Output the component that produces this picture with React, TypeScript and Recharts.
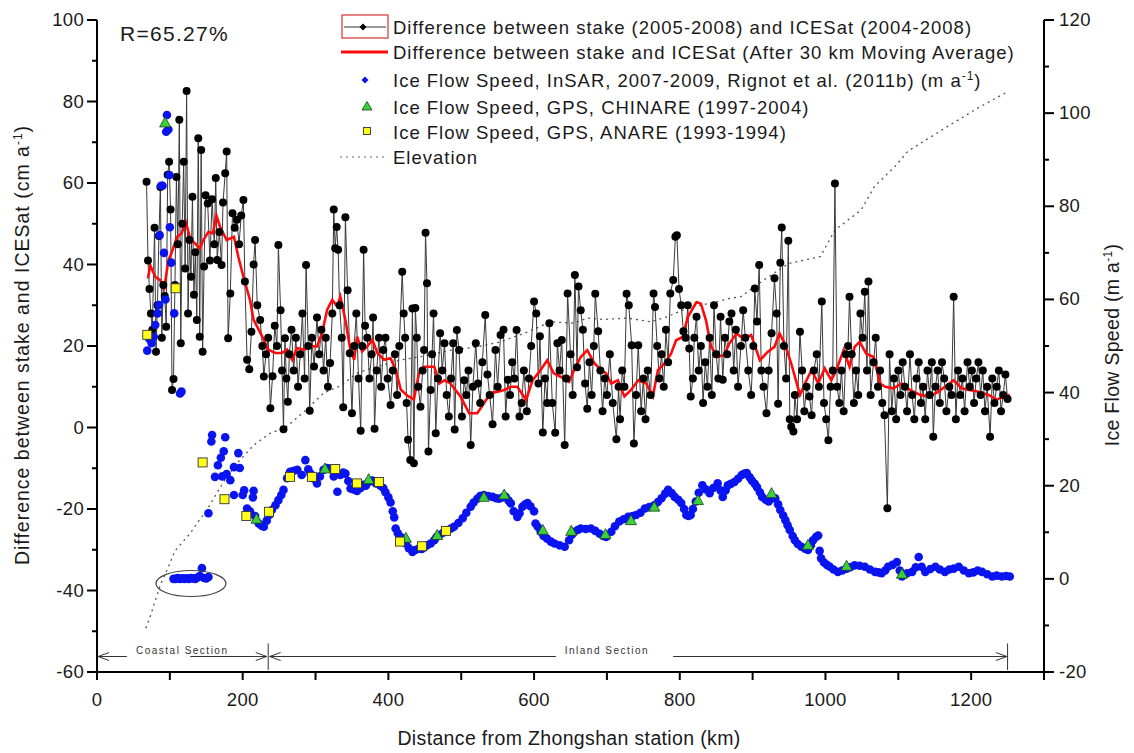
import {
  ComposedChart,
  Line,
  Scatter,
  XAxis,
  YAxis,
  ReferenceLine,
  ReferenceDot,
} from 'recharts'

const FONT = '"Liberation Sans", Arial, Helvetica, sans-serif'

// distance (km), difference between stake and ICESat (cm/a)
const STAKE_DIFF: [number, number][] = [
  [68, 60.3], [70, 41], [72, 34], [74, 28], [76, 24], [79, 49], [81, 18.6], [83, 30], [85, 47], [87, 59],
  [89, 22], [91, 35], [93, 32.3], [95, 24.7], [97, 62], [99, 65.2], [101, 53.5], [103, 9.2], [105, 11.9], [107, 35],
  [109, 61.5], [111, 45], [113, 75.5], [115, 20.7], [117, 50], [119, 65.2], [121, 39], [123, 82.6], [125, 28], [127, 46],
  [129, 37], [131, 56.6], [133, 32.6], [135, 43], [137, 26.4], [139, 71], [141, 22.3], [143, 68.1], [145, 18.6], [147, 39.5],
  [149, 57], [152, 55], [155, 41], [158, 56], [161, 45], [163, 61.2], [165, 41.1], [168, 48], [171, 39.9], [173, 55.2],
  [176, 62.4], [178, 67.7], [180, 21.9], [183, 32.9], [186, 52.6], [189, 49], [192, 51], [195, 45], [198, 52], [201, 55.8],
  [203, 35.8], [206, 16.6], [209, 14.3], [212, 23.5], [215, 40], [217, 46], [220, 30], [224, 26.4], [227, 20], [229, 12.5],
  [232, 18], [235, 22], [238, 4.7], [241, 12.6], [244, 25], [247, 20], [249, 44.8], [252, 28.8], [254, 14], [256, -0.4],
  [258, 21.9], [260, 12], [262, 6.3], [264, 18], [267, 24], [270, 14], [273, 22], [276, 10], [279, 18], [282, 28],
  [285, 12], [287, 39.9], [290, 20], [292, 4.1], [295, 22], [298, 15], [302, 27], [305, 18], [308, 24], [311, 14],
  [314, 22], [317, 10], [320, 15.8], [323, 28], [325, 53.5], [327, 44], [329, 49.2], [331, 43.6], [333, 30], [336, 22],
  [338, 5], [341, 51.6], [344, 33.7], [347, 18.2], [350, 3.5], [353, 20], [356, 28], [359, 12], [362, -0.8], [364, 20],
  [366, 43.6], [368, 25], [371, 22], [374, 12], [377, 18], [379, 27], [381, -0.3], [384, 14], [387, 22], [390, 10],
  [393, 19], [396, 22], [399, 12], [403, 5.5], [406, 14], [409, 18], [412, 8], [415, 20], [419, 38.2], [421, 28],
  [423, 22], [425, 6], [427, -3], [430, -8], [433, 29.2], [435, -8.8], [437, 29.3], [439, 22], [441, 10], [444, 5.1],
  [447, 14], [449, 19], [451, 47.8], [453, 35.4], [455, -5.9], [458, 9.2], [460, 18], [462, 28], [465, -1.4], [468, 12],
  [471, 23.1], [474, 14], [477, 20.7], [480, 8], [483, 2.7], [486, 12], [489, 20.7], [491, -0.5], [494, 23.9], [497, 19],
  [501, 2.7], [504, 11.6], [507, 8], [510, 14], [513, -4.3], [516, 10], [520, 20.7], [523, 10.8], [526, 6], [529, 16],
  [533, 27.6], [536, 13], [539, 8], [543, 0.8], [547, 19], [550, 10], [554, 22.7], [558, 24], [561, 2.7], [564, 11.7],
  [567, 8], [570, 16], [573, 12], [576, 23.9], [580, 2.7], [583, 6], [586, 14], [590, 4], [593, 12], [596, 20],
  [600, 30.9], [603, 28], [606, 10.8], [608, 22.4], [612, -1.2], [615, 12], [618, 6], [621, 25.6], [625, 6], [629, -1.3],
  [632, 20.7], [635, 14], [638, 21.5], [642, -4.3], [644, 12], [646, 32.9], [650, 18], [653, 8], [656, 37.4], [659, 14.8],
  [661, 34.6], [664, 28.8], [667, 24], [670, 10.8], [673, 4.6], [676, 16], [679, 8], [682, 20], [684, 32.8], [688, 23.6],
  [691, 14], [694, 4], [697, 12], [700, 8], [704, 18], [708, 6], [713, -2.9], [716, 10], [718, 2], [721, 14],
  [724, 10], [727, 32.8], [730, 30], [734, 20.2], [737, -3.9], [740, 8], [743, 20.2], [747, 4], [750, 12], [753, 2],
  [756, 14], [760, 8], [764, 32.9], [766, 29.6], [769, 20], [772, 12], [775, 18], [778, 10], [781, 24], [784, 16],
  [787, 32.9], [791, 36.2], [794, 46.8], [796, 47.2], [799, 34], [802, 30], [805, 23.6], [808, 22], [811, 30], [813, 19.4],
  [815, 7.6], [818, 12], [820, 22], [823, 27.2], [826, 14], [829, 20], [832, 6], [835, 16], [838, 10], [841, 22],
  [844, 8], [847, 30], [850, 18], [853, 12], [856, 27.2], [859, 11.7], [862, 22], [865, 18], [868, 26], [871, 28],
  [874, 14], [877, 24], [880, 10], [884, 20], [887, 28.8], [890, 22], [894, 14], [898, 8], [901, 20], [903, 34.1],
  [906, 26], [909, 39.9], [912, 14], [915, 10], [919, 3.5], [922, 14], [926, 23.1], [930, 36.6], [933, 28], [935, 5.8],
  [938, 40.4], [940, 49.1], [943, 20], [946, 12], [949, 45.8], [951, 2], [953, 0.2], [956, -1], [958, 8], [961, 2],
  [965, 23.5], [968, 14], [971, 4], [974, 10], [978, 7.6], [981, 3], [984, 14], [988, 18], [991, 10], [995, 30.9],
  [998, 6], [1001, 2], [1004, -3.1], [1007, 10], [1010, 14], [1013, 59.9], [1016, 10], [1019, 6], [1022, 14], [1025, 4],
  [1028, 18], [1031, 20], [1033, 32.1], [1036, 18], [1039, 6], [1042, 14], [1045, 8], [1048, 28], [1051, 22], [1054, 33.3],
  [1057, 14], [1059, 35.8], [1062, 8], [1066, 16], [1069, 22], [1072, 10], [1075, 14], [1078, 6], [1081, 3], [1085, -19.8],
  [1088, 18], [1091, 4], [1094, 12], [1097, 2], [1100, 14], [1103, 8], [1106, 16], [1109, 10], [1112, 4], [1116, 18],
  [1119, 8], [1122, 2], [1125, 12], [1128, 16], [1131, 6], [1134, 10], [1137, 2], [1140, 14], [1143, 8], [1146, 16],
  [1148, -2.3], [1151, 10], [1154, 14], [1157, 6], [1160, 16], [1163, 12], [1166, 4], [1170, 10], [1173, 8], [1176, 32.1],
  [1179, 2], [1182, 14], [1185, 8], [1188, 12], [1191, 4], [1195, 16], [1198, 10], [1201, 14], [1204, 6], [1207, 12],
  [1210, 16], [1213, 8], [1216, 14], [1219, 4], [1222, 10], [1226, -2.3], [1229, 12], [1232, 6], [1235, 10], [1238, 14],
  [1241, 4], [1244, 8], [1247, 13], [1250, 7],
]

// 30 km moving average (cm/a)
const MOVING_AVG: [number, number][] = [
  [70, 36.6], [73, 39.8], [80, 37], [87, 36.1], [92, 33.7], [98, 41], [102, 42.7], [110, 46.8], [116, 47.6], [122, 50.4],
  [128, 46.3], [135, 45.1], [141, 43.9], [146, 46], [153, 48], [159, 47.6], [164, 52], [169, 49.2], [178, 46], [188, 46.8],
  [194, 41.9], [201, 37], [210, 31.3], [215, 26.4], [222, 24], [229, 21.5], [235, 19.1], [245, 18.3], [254, 18.3], [261, 19.1],
  [268, 16.6], [275, 19.5], [284, 19.1], [293, 19.9], [302, 19.9], [309, 23.2], [316, 28.9], [323, 31.3], [330, 29.7], [334, 32.1],
  [341, 26.4], [347, 19.9], [353, 16.6], [357, 22.3], [364, 18.7], [371, 19.9], [378, 21.5], [385, 18.3], [394, 16.6], [403, 17],
  [410, 14.2], [417, 9.3], [426, 7.8], [435, 6.9], [442, 13.3], [449, 14.9], [463, 14.9], [470, 10.8], [477, 11.6], [485, 10.8],
  [499, 7.6], [511, 3.5], [522, 3.5], [531, 5.9], [540, 8.4], [550, 8.8], [559, 9.2], [568, 10], [577, 10], [589, 6.8],
  [598, 11.6], [609, 14.1], [618, 16.5], [627, 13.3], [637, 12.4], [648, 11.2], [655, 14.1], [664, 17.3], [673, 19], [683, 15.7],
  [692, 14.1], [699, 13.3], [706, 10.8], [715, 11.6], [724, 7.6], [733, 9.2], [743, 11.6], [754, 10.8], [763, 7.6], [770, 14.1],
  [779, 15.7], [788, 18.1], [795, 21.4], [804, 22.2], [811, 27.1], [823, 30.8], [829, 30.4], [836, 26.3], [843, 19.8], [852, 17.3],
  [861, 17.8], [868, 20.6], [878, 23.1], [887, 21.8], [898, 22.7], [910, 16.5], [921, 18.6], [930, 19.8], [937, 23.1], [944, 20.6],
  [953, 15.7], [965, 8], [974, 11.6], [981, 14.1], [990, 10.8], [999, 14.5], [1008, 11.6], [1015, 14.1], [1025, 19], [1033, 14.9],
  [1040, 19.8], [1047, 21], [1056, 18.1], [1066, 17.3], [1075, 10.8], [1082, 10], [1093, 9.6], [1105, 10.8], [1116, 9.2], [1130, 8],
  [1143, 7.6], [1155, 8.8], [1164, 10], [1176, 11.6], [1187, 9.6], [1198, 9.2], [1210, 8.8], [1224, 8], [1235, 6.8], [1244, 7.6],
  [1253, 8],
]

// ice flow speed, InSAR (m/a)
const INSAR_SPEED: [number, number][] = [
  [69, 49], [72, 51.5], [75, 50.6], [78, 52], [80, 54.5], [83, 57], [85, 58.8], [86, 73.8], [88, 84.4], [90, 84.4],
  [92, 70], [94, 60], [95, 96], [96, 99.6], [98, 96.5], [99.5, 86.7], [100, 75.5], [102, 67.9], [106, 57], [114, 39.8],
  [116, 40.2], [105, 0], [108, 0], [111, 0.2], [114, 0], [117, 0.1], [120, 0], [123, 0.1], [126, 0], [129, 0.2],
  [132, 0.1], [135, 0], [138, 0.3], [141, 0.6], [144, 2.3], [147, 0.2], [150, 0.1], [153, 0.4], [153, 14.1], [158, 30.9],
  [157, 29.5], [176, 30.4], [174, 27.4], [170, 26], [162, 21.9], [166, 24.4], [172, 22], [178, 22.5], [183, 21.2], [188, 24],
  [194, 27], [196, 23.8], [188, 18], [200, 18], [202, 19], [215, 18.9], [214, 17.5], [206, 15.1], [210, 14.5], [217, 13.5],
  [222, 11.9], [226, 11.4], [229, 11.2], [233, 12.5], [237, 13.8], [240, 14.8], [245, 15.8], [249, 16.9], [253, 18], [256, 19.1],
  [261, 21.6], [265, 23], [270, 23.2], [275, 23.4], [281, 22.3], [286, 25.5], [290, 23.5], [293, 22.6], [298, 21.5], [302, 20.5],
  [306, 22], [311, 23.4], [316, 23.8], [320, 23.7], [325, 22], [330, 18.7], [334, 22.3], [338, 22.8], [341, 22.6], [345, 21],
  [348, 19.4], [352, 19.2], [357, 18.9], [362, 19.5], [366, 20.2], [369, 20], [373, 20.8], [378, 21.1], [383, 20.5], [389, 20],
  [393, 19.5], [396, 18.6], [400, 17.5], [403, 16.4], [406, 14.5], [408, 13.2], [410, 10.8], [413, 9.8], [417, 9], [420, 8.2],
  [424, 7.6], [428, 6.6], [433, 5.8], [437, 6.2], [442, 6.5], [446, 6.4], [449, 6.8], [453, 7.2], [458, 7.6], [463, 8.3],
  [466, 9], [470, 9.4], [475, 9.9], [481, 10.4], [486, 10.8], [490, 11.2], [496, 12], [502, 13], [507, 14.2], [513, 15.5],
  [517, 16.4], [522, 17.2], [526, 17.8], [531, 18], [537, 17.8], [543, 17.6], [548, 17.3], [552, 17.2], [557, 17.5], [561, 17.6],
  [565, 16.8], [568, 16.2], [572, 14.5], [577, 13.3], [580, 14.1], [584, 15.5], [588, 16], [591, 16.3], [595, 15.6], [600, 14.5],
  [602, 11.9], [605, 11.2], [609, 10.1], [613, 9.2], [618, 8.6], [623, 8], [628, 7.6], [635, 7.2], [642, 6.9], [648, 8.3],
  [652, 9.5], [655, 10.1], [660, 10.5], [664, 10.8], [671, 10.7], [678, 10.8], [684, 10.3], [690, 9.7], [695, 9.2], [699, 9],
  [706, 10.1], [711, 11.3], [717, 12.3], [723, 12.8], [729, 13.3], [735, 13.5], [740, 13.7], [746, 14.2], [752, 15.1], [758, 15.4],
  [765, 15.8], [770, 16.5], [775, 17.3], [780, 18.3], [784, 19.1], [789, 18.4], [793, 17.6], [798, 17], [802, 16.3], [806, 15],
  [809, 13.7], [812, 13.5], [815, 13.7], [818, 15], [822, 16.6], [826, 18.5], [831, 20.1], [836, 19.2], [841, 18.4], [846, 19.5],
  [852, 20.5], [856, 19], [859, 17.6], [863, 19], [866, 20.1], [870, 20.4], [875, 20.8], [880, 21.5], [885, 22.3], [889, 22.6],
  [892, 22.7], [896, 21.8], [899, 21.1], [903, 20.4], [906, 19.7], [910, 18.6], [913, 17.6], [918, 17], [922, 16.6], [926, 17.2],
  [931, 17.3], [935, 16], [938, 14.8], [942, 13.6], [945, 12.6], [948, 11.5], [951, 10.5], [955, 9.2], [958, 8.3], [962, 7.5],
  [967, 6.9], [972, 6.5], [976, 6.2], [980, 7.2], [983, 8.3], [987, 9], [990, 9.3], [992, 6], [994, 4.4], [998, 3.5],
  [1002, 3], [1006, 2.6], [1011, 2], [1017, 1.5], [1023, 1.8], [1029, 2.2], [1034, 2.5], [1040, 2.9], [1047, 2.8], [1054, 2.6],
  [1061, 2], [1068, 1.5], [1073, 1.4], [1077, 1.2], [1082, 1.8], [1086, 2.6], [1092, 3], [1098, 3.6], [1102, 1.8], [1105, 0.5],
  [1112, 1.2], [1119, 1.5], [1124, 2.5], [1128, 4.7], [1132, 2.6], [1137, 1.5], [1144, 2.1], [1151, 2.6], [1157, 2], [1164, 1.5],
  [1170, 2], [1176, 2.2], [1183, 2.6], [1190, 1.8], [1197, 1.2], [1203, 1.4], [1209, 1.8], [1215, 1.5], [1222, 1], [1229, 0.5],
  [1235, 0.7], [1242, 0.5], [1248, 0.6], [1253, 0.5],
]

// ice flow speed, GPS CHINARE (m/a)
const CHINARE_SPEED: [number, number][] = [
  [93.5, 97.9], [219, 12.8], [313, 23.6], [373, 21.3], [424, 8.7], [467, 9.3], [531, 17.5], [559, 18], [612, 10.4],
  [651, 10.2], [698, 9.5], [733, 12.5], [765, 15.4], [825, 16.8], [926, 18.3], [976, 7.2], [1029, 2.7], [1105, 1],
]

// ice flow speed, GPS ANARE (m/a)
const ANARE_SPEED: [number, number][] = [
  [69, 52.4], [108, 62.4], [145, 25], [175, 17.1], [205, 13.5], [236, 14.4], [265, 21.9], [295, 21.9], [327, 23.6],
  [357, 20.5], [387, 20.8], [416, 8], [446, 7], [479, 10.3],
]

// elevation profile, drawn against the right scale
const ELEVATION: [number, number][] = [
  [67, -10.6], [73, -8.1], [87, -1.3], [100, 3.3], [107, 6], [128, 9.8], [140, 12.5], [152, 15.1], [163, 18], [174, 20.9],
  [192, 24.8], [215, 28.7], [238, 31.3], [259, 32.5], [285, 36], [311, 39.9], [335, 41.5], [357, 44.2], [385, 45.6], [417, 47],
  [444, 47.7], [486, 49.1], [522, 49.8], [554, 50.9], [591, 53], [623, 55.2], [655, 54.9], [673, 56], [696, 55.7], [728, 56],
  [760, 55.2], [783, 56.3], [815, 58.4], [843, 59.2], [868, 60.2], [884, 60.6], [912, 63.8], [949, 67.7], [993, 69.2], [1013, 74.9],
  [1049, 79.2], [1067, 84.2], [1095, 88.5], [1113, 91.8], [1160, 96.4], [1208, 101], [1249, 104.5],
]

const X_TICKS = [0, 100, 200, 300, 400, 500, 600, 700, 800, 900, 1000, 1100, 1200, 1300]
const LEFT_TICKS = [-60, -50, -40, -30, -20, -10, 0, 10, 20, 30, 40, 50, 60, 70, 80, 90, 100]
const RIGHT_TICKS = [-20, -10, 0, 10, 20, 30, 40, 50, 60, 70, 80, 90, 100, 110, 120]

const toRows = (pts: [number, number][]) => pts.map(([km, v]) => ({ km, v }))

const TICK_COLOR = '#1a1a1a'

function BottomTick({ x, y, payload }: any) {
  const major = payload.value % 200 === 0
  return (
    <g>
      <line x1={x} x2={x} y1={y} y2={y + 8} stroke="#000" strokeWidth={2} />
      {major && (
        <text x={x} y={y + 34} textAnchor="middle" fontSize={18.5} letterSpacing={0.3} fill={TICK_COLOR} fontFamily={FONT}>
          {payload.value}
        </text>
      )}
    </g>
  )
}

function LeftTick({ x, y, payload }: any) {
  const major = payload.value % 20 === 0
  return (
    <g>
      <line x1={x - (major ? 10 : 5)} x2={x} y1={y} y2={y} stroke="#000" strokeWidth={2} />
      {major && (
        <text x={x - 13} y={y + 6} textAnchor="end" fontSize={18.5} letterSpacing={0.3} fill={TICK_COLOR} fontFamily={FONT}>
          {payload.value}
        </text>
      )}
    </g>
  )
}

function RightTick({ x, y, payload }: any) {
  const major = payload.value % 20 === 0
  return (
    <g>
      <line x1={x} x2={x + (major ? 10 : 5)} y1={y} y2={y} stroke="#000" strokeWidth={2} />
      {major && (
        <text x={x + 15} y={y + 6} textAnchor="start" fontSize={18.5} letterSpacing={0.3} fill={TICK_COLOR} fontFamily={FONT}>
          {payload.value}
        </text>
      )}
    </g>
  )
}

const blueDot = (p: any) => <circle cx={p.cx} cy={p.cy} r={4.3} fill="#0a14f0" />
const greenTri = (p: any) => (
  <path
    d={`M${p.cx} ${p.cy - 6} L${p.cx + 5.5} ${p.cy + 4} L${p.cx - 5.5} ${p.cy + 4} Z`}
    fill="#3ad03a"
    stroke="#1d3d1d"
    strokeWidth={0.8}
  />
)
const yellowSq = (p: any) => (
  <rect x={p.cx - 4.5} y={p.cy - 4.5} width={9} height={9} fill="#ffff1a" stroke="#333" strokeWidth={0.9} />
)

const arrowLeft = (p: any) => (
  <path d={`M${p.cx + 11} ${p.cy - 4} L${p.cx} ${p.cy} L${p.cx + 11} ${p.cy + 4}`} fill="none" stroke="#333" strokeWidth={1} />
)
const arrowRight = (p: any) => (
  <path d={`M${p.cx - 11} ${p.cy - 4} L${p.cx} ${p.cy} L${p.cx - 11} ${p.cy + 4}`} fill="none" stroke="#333" strokeWidth={1} />
)
const sectionText = (label: string) => (p: any) => (
  <text x={p.cx} y={p.cy + 4} textAnchor="middle" fontSize={10} letterSpacing={1.5} fill="#333" fontFamily={FONT}>
    {label}
  </text>
)
const ellipseShape = (p: any) => (
  <ellipse cx={p.cx} cy={p.cy} rx={35} ry={13} fill="none" stroke="#444" strokeWidth={1.2} />
)

const SECTION_Y = -56.2

function Sup({ children }: { children: string }) {
  return (
    <>
      <tspan dy={-7} fontSize={12}>{children}</tspan>
      <tspan dy={7}>)</tspan>
    </>
  )
}

export default function App() {
  const diff = toRows(STAKE_DIFF)
  const avg = toRows(MOVING_AVG)
  const insar = toRows(INSAR_SPEED)
  const chinare = toRows(CHINARE_SPEED)
  const anare = toRows(ANARE_SPEED)
  const elev = toRows(ELEVATION)

  return (
    <div style={{ position: 'absolute', left: 0, top: 0, width: 1134, height: 753, background: '#fff', fontFamily: FONT }}>
      <ComposedChart width={1134} height={753} margin={{ top: 20, right: 0, bottom: 0, left: 0 }}>
        <XAxis
          type="number"
          dataKey="km"
          domain={[0, 1300]}
          ticks={X_TICKS}
          interval={0}
          height={81}
          tickSize={0}
          tickMargin={0}
          tickLine={false}
          axisLine={{ stroke: '#000', strokeWidth: 2 }}
          tick={<BottomTick />}
          allowDataOverflow
        />
        <YAxis
          yAxisId="left"
          type="number"
          domain={[-60, 100]}
          ticks={LEFT_TICKS}
          interval={0}
          width={97}
          tickSize={0}
          tickMargin={0}
          tickLine={false}
          axisLine={{ stroke: '#000', strokeWidth: 2 }}
          tick={<LeftTick />}
          allowDataOverflow
        />
        <YAxis
          yAxisId="right"
          orientation="right"
          type="number"
          domain={[-20, 120]}
          ticks={RIGHT_TICKS}
          interval={0}
          width={90}
          tickSize={0}
          tickMargin={0}
          tickLine={false}
          axisLine={{ stroke: '#000', strokeWidth: 2 }}
          tick={<RightTick />}
          allowDataOverflow
        />

        <Line
          yAxisId="right"
          data={elev}
          dataKey="v"
          stroke="#555"
          strokeWidth={1.3}
          strokeDasharray="2 4"
          dot={false}
          isAnimationActive={false}
        />
        <Line
          yAxisId="left"
          data={diff}
          dataKey="v"
          stroke="#3a3a3a"
          strokeWidth={1}
          dot={{ r: 4, fill: '#000', stroke: '#000', strokeWidth: 0 }}
          isAnimationActive={false}
        />
        <Line
          yAxisId="left"
          data={avg}
          dataKey="v"
          stroke="#ff0a0a"
          strokeWidth={2.6}
          dot={false}
          isAnimationActive={false}
        />
        <Scatter yAxisId="right" data={insar} dataKey="v" shape={blueDot} isAnimationActive={false} />
        <Scatter yAxisId="right" data={chinare} dataKey="v" shape={greenTri} isAnimationActive={false} />
        <Scatter yAxisId="right" data={anare} dataKey="v" shape={yellowSq} isAnimationActive={false} />

        <ReferenceDot yAxisId="right" x={129} y={-1} shape={ellipseShape} ifOverflow="visible" />

        {/* section annotations */}
        <ReferenceLine yAxisId="left" segment={[{ x: 1.5, y: SECTION_Y }, { x: 41, y: SECTION_Y }]} stroke="#333" />
        <ReferenceLine yAxisId="left" segment={[{ x: 128, y: SECTION_Y }, { x: 233, y: SECTION_Y }]} stroke="#333" />
        <ReferenceLine yAxisId="left" segment={[{ x: 237, y: SECTION_Y }, { x: 630, y: SECTION_Y }]} stroke="#333" />
        <ReferenceLine yAxisId="left" segment={[{ x: 791, y: SECTION_Y }, { x: 1249, y: SECTION_Y }]} stroke="#333" />
        <ReferenceLine yAxisId="left" segment={[{ x: 235, y: -53 }, { x: 235, y: -59.5 }]} stroke="#333" />
        <ReferenceLine yAxisId="left" segment={[{ x: 1250, y: -53 }, { x: 1250, y: -59.5 }]} stroke="#333" />
        <ReferenceDot yAxisId="left" x={1.5} y={SECTION_Y} shape={arrowLeft} />
        <ReferenceDot yAxisId="left" x={233} y={SECTION_Y} shape={arrowRight} />
        <ReferenceDot yAxisId="left" x={237} y={SECTION_Y} shape={arrowLeft} />
        <ReferenceDot yAxisId="left" x={1249} y={SECTION_Y} shape={arrowRight} />
        <ReferenceDot yAxisId="left" x={117} y={-54.5} shape={sectionText('Coastal Section')} />
        <ReferenceDot yAxisId="left" x={700} y={-54.5} shape={sectionText('Inland Section')} />
      </ComposedChart>

      <svg
        width={1134}
        height={753}
        style={{ position: 'absolute', left: 0, top: 0, pointerEvents: 'none' }}
        fontFamily={FONT}
        fill="#1a1a1a"
      >
        <text x={120} y={41} fontSize={21} letterSpacing={1.3}>R=65.27%</text>

        <text transform="translate(29,345) rotate(-90)" textAnchor="middle" fontSize={19.5} letterSpacing={1}>
          Difference between stake and ICESat (cm a<Sup>-1</Sup>
        </text>
        <text transform="translate(1119,345) rotate(-90)" textAnchor="middle" fontSize={19.5} letterSpacing={0.3}>
          Ice Flow Speed (m a<Sup>-1</Sup>
        </text>
        <text x={569} y={745} textAnchor="middle" fontSize={19.5} letterSpacing={0.35}>
          Distance from Zhongshan station (km)
        </text>

        {/* legend */}
        <g fontSize={18.5} letterSpacing={1}>
          <rect x={342} y={15} width={46} height={23} fill="none" stroke="#d94040" strokeWidth={1.3} />
          <line x1={344} x2={386} y1={27} y2={27} stroke="#333" strokeWidth={1} />
          <path d="M363 23.5 L366.5 27 L363 30.5 L359.5 27 Z" fill="#000" />
          <text x={393} y={34}>Difference between stake (2005-2008) and ICESat (2004-2008)</text>

          <line x1={341} x2={388} y1={52} y2={52} stroke="#ff0a0a" strokeWidth={3} />
          <text x={393} y={59}>Difference between stake and ICESat (After 30 km Moving Average)</text>

          <path d="M365 76.5 L368.5 80 L365 83.5 L361.5 80 Z" fill="#0a14f0" />
          <text x={393} y={87}>
            Ice Flow Speed, InSAR, 2007-2009, Rignot et al. (2011b)  (m a<Sup>-1</Sup>
          </text>

          <path d="M367 101.5 L372 110 L362 110 Z" fill="#3ad03a" stroke="#1d3d1d" strokeWidth={0.8} />
          <text x={393} y={114}>Ice Flow Speed, GPS, CHINARE (1997-2004)</text>

          <rect x={363.5} y={127.5} width={7} height={7} fill="#ffff1a" stroke="#333" strokeWidth={0.9} />
          <text x={393} y={139}>Ice Flow Speed, GPS, ANARE (1993-1994)</text>

          <line x1={340} x2={384} y1={157} y2={157} stroke="#666" strokeWidth={1.2} strokeDasharray="2 4" />
          <text x={393} y={164}>Elevation</text>
        </g>
      </svg>
    </div>
  )
}
